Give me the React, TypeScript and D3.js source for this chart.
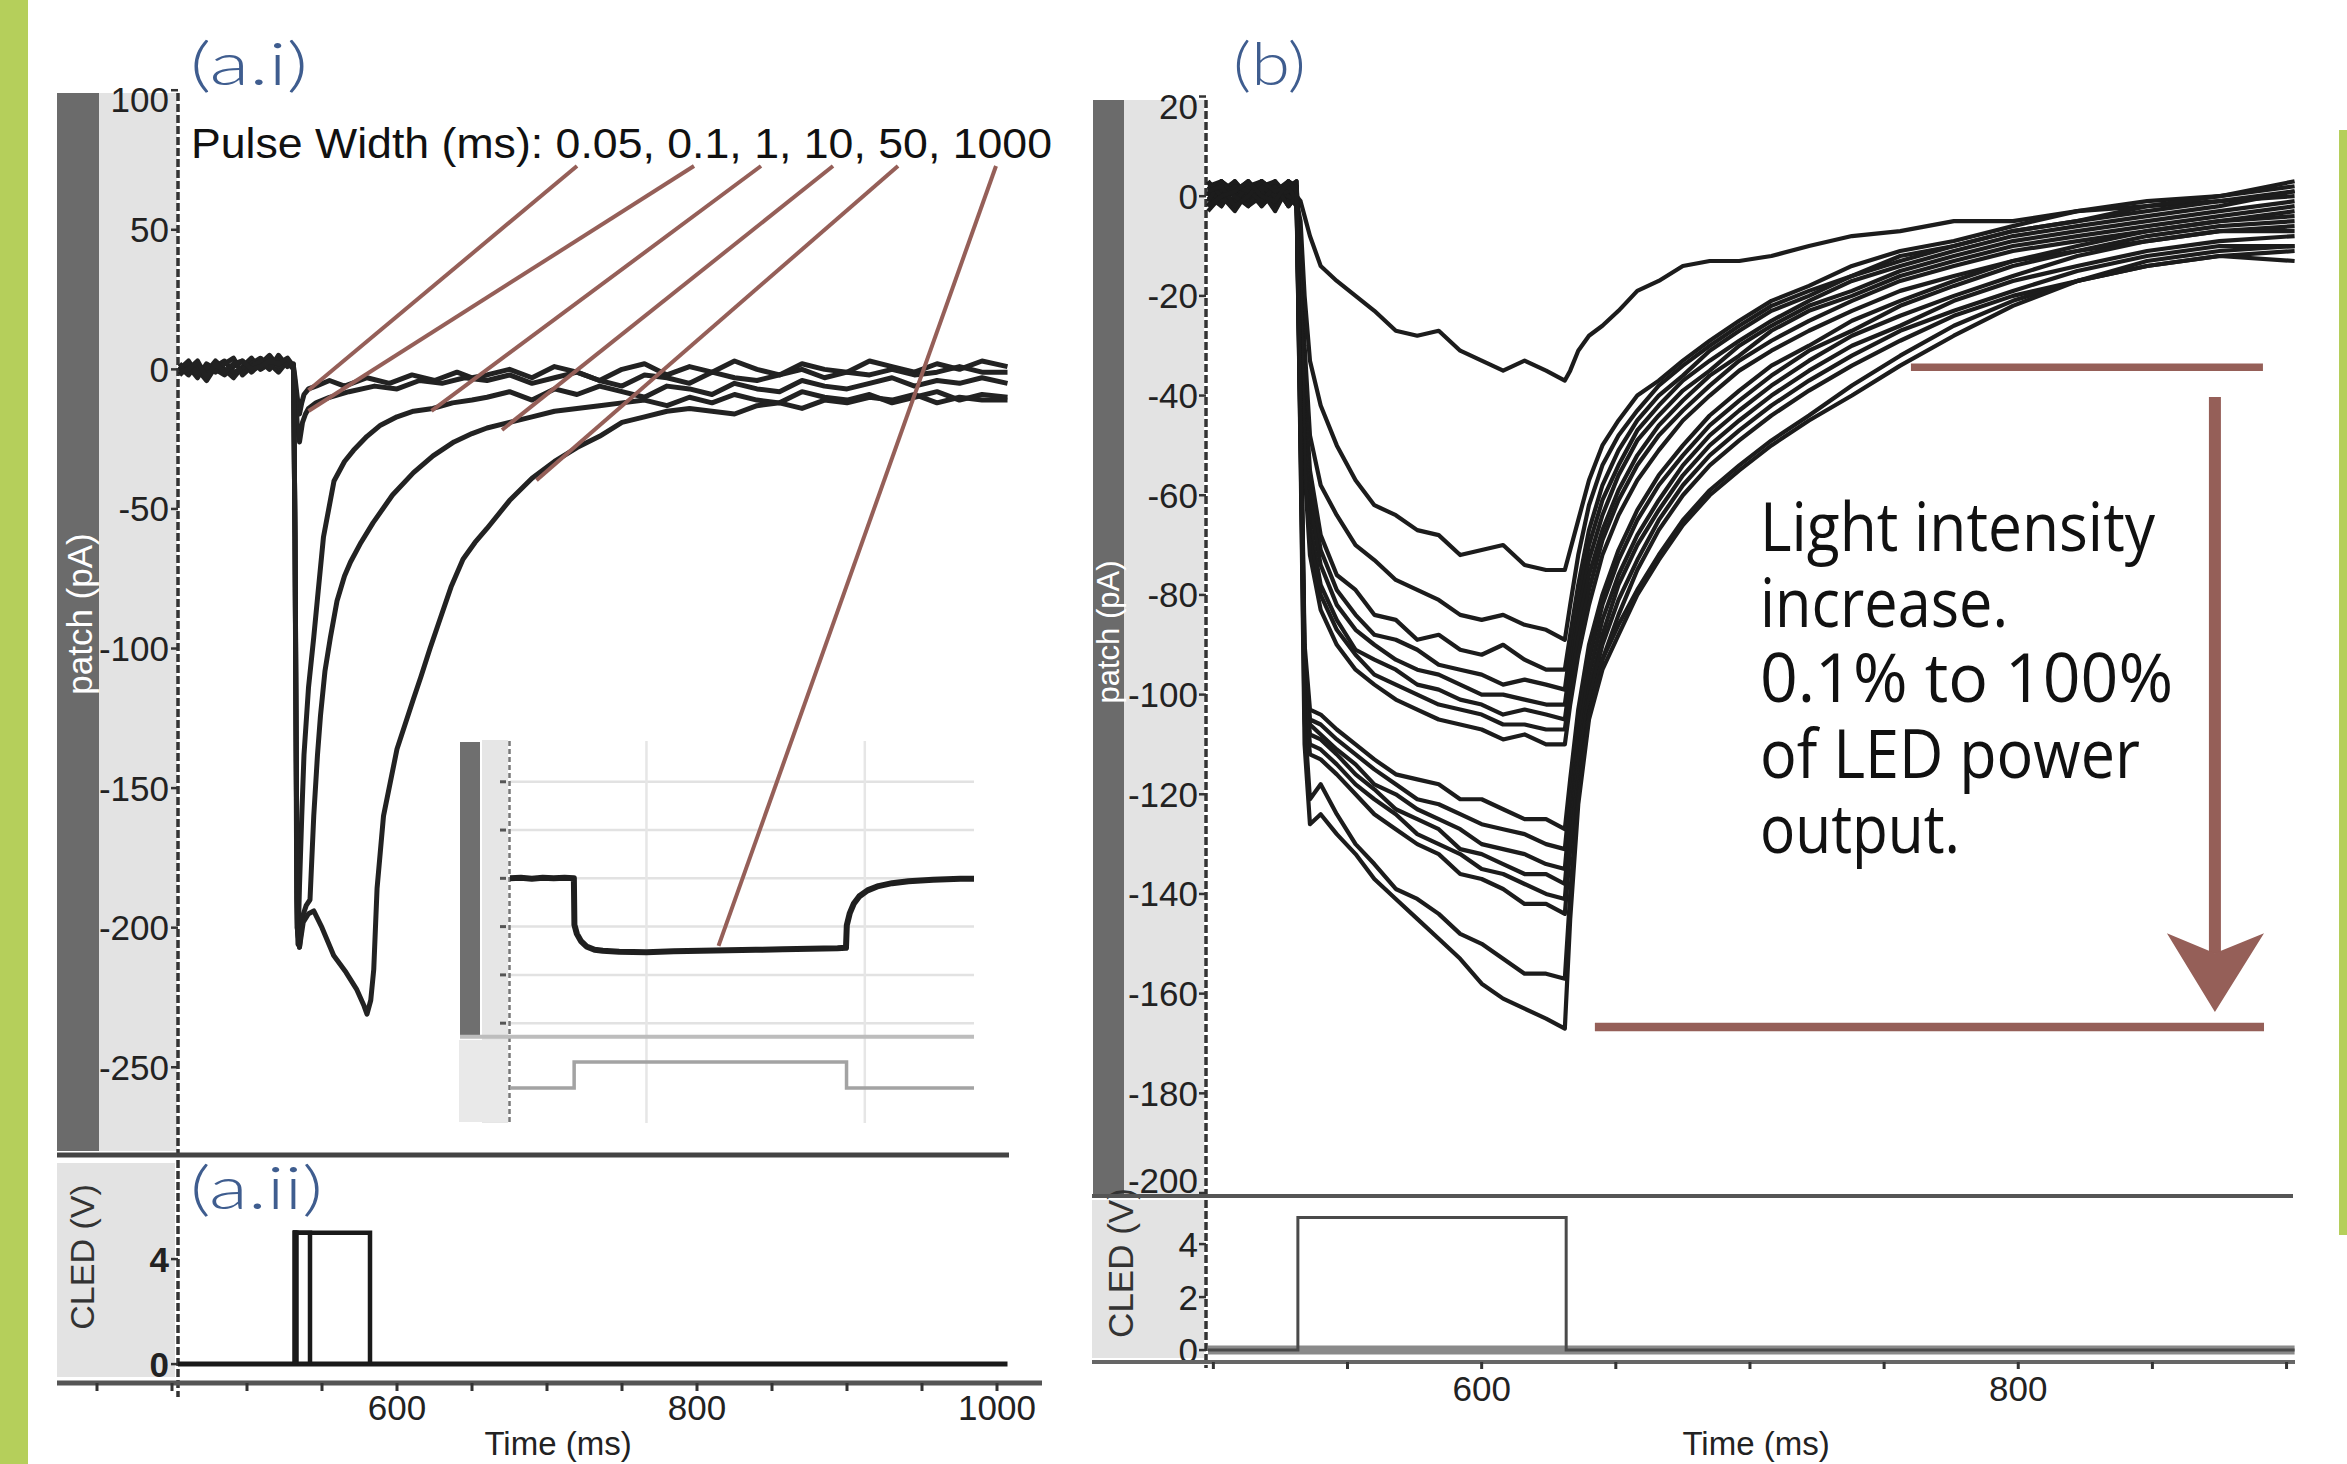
import React from "react";
import * as d3 from "d3";

const W = 2347;
const H = 1464;
const AX = "'Liberation Sans', Arial, sans-serif";
const LBL = "Lato, 'Open Sans', sans-serif";

// ---------- panel (a.i) : pulse width series ----------
const pulseLabels = ["0.05", "0.1", "1", "10", "50", "1000"];
const pulseWidthsA = [0.05, 0.1, 1, 10, 50];
const pulseStartA = 532;
const yTicksA = [100, 50, 0, -50, -100, -150, -200, -250];
const xTicksA = [600, 800, 1000];
const cledTicksA = [4, 0];

const preTimesA = [455, 461, 467, 473, 479, 485, 491, 497, 503, 509, 515, 521, 527, 531];
const tailTimesA = [660, 675, 690, 705, 720, 735, 750, 765, 780, 795, 810, 825, 840, 855, 870, 885, 900, 915, 930, 945, 960, 975, 990, 1007];

const pre005 = [1, -2, 2, -1, 3, 0, -3, 1, 4, 0, 2, -1, 3, 1];
const pre01 = [-2, 1, -3, 2, 0, -2, 1, 3, -1, 2, 5, 1, 3, 0];
const pre1 = [2, -1, 0, -4, 1, 3, -1, 0, 2, 4, 1, 3, 2, 1];
const pre10 = [0, 3, -2, 1, -1, 2, 4, -2, 1, 3, 0, 5, 1, 2];
const pre50 = [-1, 0, 3, -3, 2, -1, 2, 3, 0, 1, 3, 2, 4, 1];

const resp005 = [[532, -3], [533.5, -10], [535, -16], [536.5, -12], [538, -9], [541, -7], [546, -6], [555, -4], [565, -6], [580, -3], [595, -5], [610, -2], [625, -4], [640, -1], [650, -3]];
const resp01 = [[532, -5], [533.5, -20], [535, -26], [537, -19], [539, -16], [541, -14], [546, -12], [555, -10], [568, -8], [585, -6], [600, -7], [615, -4], [630, -5], [645, -3]];
const resp1 = [[532, -60], [533.2, -190], [534, -206], [535, -185], [536.5, -160], [538, -138], [541, -114], [544.5, -96], [547, -82], [551, -60], [558, -40], [565, -33], [571, -29], [580, -24], [589, -20], [600, -17], [611, -15], [624, -14], [637, -12], [650, -11]];
const resp10 = [[532, -60], [533.5, -200], [535, -207], [537, -196], [539.5, -192], [542, -190], [544.5, -160], [547, -138], [549, -124], [552, -108], [555.6, -96], [560, -83], [565, -74], [569, -69], [576, -62], [584, -55], [597, -45], [611, -37], [624, -31], [638, -26], [650, -23]];
const resp50 = [[532, -60], [533.5, -200], [535, -207], [537.5, -198], [541, -195], [544.5, -194], [550, -200], [557.8, -210], [566, -216], [573, -222], [578, -228], [580, -231], [582.5, -226], [584.5, -215], [586.7, -186], [591, -160], [600, -136], [611, -118], [616, -110], [622, -100], [629, -89], [636, -78], [644, -68], [652, -62]];

const tail005 = [-2, 0, -3, 1, -1, -4, 0, 2, -2, 1, -1, 3, 0, -2, 2, 0, -1, 3, 1, -1, 2, 0, 3, 1];
const tail01 = [-4, -2, -5, -3, -1, -4, -6, -2, -3, -5, -1, -3, -4, -2, 0, -3, -1, -2, 0, -2, -1, 1, -1, -1];
const tail1 = [-10, -8, -11, -7, -9, -6, -8, -10, -6, -7, -9, -5, -7, -8, -4, -6, -7, -5, -3, -6, -4, -5, -3, -5];
const tail10 = [-21, -19, -17, -15, -14, -13, -12, -11, -13, -10, -12, -9, -11, -12, -8, -10, -11, -9, -12, -10, -8, -11, -9, -10];
const tail50 = [-57, -47, -39, -33, -28, -24, -19, -17, -15, -14, -15, -16, -13, -12, -14, -11, -12, -10, -11, -9, -12, -10, -11, -11];

// pointer targets (ms, pA) for the 5 short pulses, and inset target for 1000 ms
const pointerEndsA = [[541, -7.5], [541, -14.9], [623, -14.9], [670, -21.7], [693, -39.7]];
const pointerStartX = [577, 694, 761, 833, 898, 996];
const pointerEndInset = [1064, -140];

// inset (1000 ms pulse)
const insetT = [300, 340, 380, 420, 460, 500, 534, 536, 545, 560, 580, 610, 640, 700, 800, 900, 1000, 1100, 1200, 1300, 1400, 1500, 1531, 1534, 1545, 1560, 1580, 1610, 1650, 1700, 1760, 1850, 1950, 2000];
const insetV = [0, 1, -1, 1, 0, 1, 0, -96, -115, -130, -141, -148, -150, -152, -153, -151, -150, -149, -148, -147, -146, -145, -144, -97, -72, -52, -37, -25, -16, -10, -6, -3, -1, -1];
const insetGridY = [200, 100, 0, -100, -200, -300];
const insetGridX = [800, 1600];
const insetPulse = [535, 1533];

// ---------- panel (b) : light intensity series ----------
const yTicksB = [20, 0, -20, -40, -60, -80, -100, -120, -140, -160, -180, -200];
const xTicksB = [600, 800];
const cledTicksB = [4, 2, 0];
const pulseB = [531.5, 631.5];
const timesB = [498, 503, 508, 513, 518, 523, 528, 531, 532.5, 534, 536, 540, 546, 553, 560, 568, 576, 584, 592, 600, 608, 616, 624, 631, 633, 636, 640, 645, 651, 658, 666, 675, 685, 696, 708, 722, 738, 756, 776, 798, 822, 848, 875, 903];

const tr1 = [1, -2, 2, 0, -1, 3, -2, 0, -1, -4, -8, -14, -17, -20, -23, -27, -28, -27, -31, -33, -35, -33, -35, -37, -35, -31, -28, -26, -23, -19, -17, -14, -13, -13, -12, -10, -8, -7, -5, -5, -3, -2, -1, 0];
const tr2 = [-2, 1, 3, -1, 2, 0, 1, -1, -5, -20, -33, -42, -50, -57, -62, -64, -67, -68, -72, -71, -70, -74, -75, -75, -71, -65, -57, -50, -45, -40, -37, -33, -29, -25, -21, -18, -14, -11, -9, -6, -3, -1, 0, 3];
const tr3 = [2, 0, -3, 1, 3, -1, 2, 1, -8, -30, -48, -58, -64, -70, -73, -77, -79, -81, -84, -85, -84, -86, -87, -89, -82, -72, -62, -54, -48, -43, -38, -34, -30, -26, -22, -19, -16, -12, -10, -7, -5, -3, -1, 1];
const u1 = [0, 3, 1, -2, 0, 2, -1, 2, -12, -38, -55, -68, -76, -79, -84, -85, -89, -88, -91, -92, -90, -93, -95, -95, -88, -78, -67, -58, -51, -45, -40, -36, -31, -27, -23, -20, -16, -13, -10, -7, -5, -2, 0, 2];
const u2 = [-1, 2, 0, 3, -2, 1, 3, 0, -14, -42, -58, -71, -79, -84, -88, -89, -91, -94, -95, -96, -98, -97, -98, -99, -91, -81, -70, -61, -54, -47, -42, -37, -33, -29, -25, -21, -17, -14, -11, -8, -6, -4, -2, 1];
const u3 = [3, -1, 2, 1, 0, -2, 1, 3, -15, -45, -62, -74, -82, -87, -90, -93, -95, -96, -98, -100, -100, -101, -102, -102, -94, -84, -73, -64, -56, -49, -44, -39, -35, -30, -26, -22, -19, -15, -12, -9, -7, -5, -3, -1];
const u4 = [0, 1, -2, 2, 3, 0, -1, 1, -17, -48, -66, -78, -85, -91, -93, -95, -98, -99, -101, -102, -104, -103, -104, -105, -97, -86, -76, -67, -59, -52, -46, -41, -36, -32, -27, -23, -20, -16, -13, -10, -8, -6, -4, -2];
const u5 = [-3, 0, 1, -1, 2, 3, 0, -2, -18, -52, -69, -80, -87, -92, -96, -98, -100, -102, -103, -104, -106, -106, -107, -107, -99, -89, -79, -69, -61, -54, -48, -43, -38, -33, -29, -25, -21, -17, -14, -11, -9, -7, -5, -4];
const u6 = [2, 3, 0, 1, -2, 1, 2, 0, -20, -55, -72, -83, -90, -95, -98, -101, -103, -105, -106, -107, -109, -108, -110, -110, -102, -92, -82, -72, -64, -57, -51, -45, -40, -35, -31, -27, -23, -19, -16, -13, -11, -9, -7, -6];
const l1 = [1, -1, 3, 0, 1, -1, 3, 2, -40, -90, -103, -104, -107, -110, -113, -116, -117, -118, -121, -121, -123, -125, -125, -127, -117, -103, -90, -80, -71, -63, -56, -50, -44, -39, -34, -30, -25, -21, -17, -13, -10, -7, -5, -3];
const l2 = [-2, 2, 1, 3, 0, 2, -2, 1, -42, -92, -105, -106, -109, -112, -115, -118, -121, -122, -124, -126, -127, -128, -130, -131, -120, -106, -93, -82, -73, -65, -58, -52, -46, -41, -36, -31, -27, -22, -18, -14, -11, -8, -6, -5];
const l3 = [0, -2, 2, -1, 3, 1, 0, -1, -44, -94, -106, -108, -111, -114, -118, -120, -123, -125, -127, -130, -131, -132, -134, -135, -123, -109, -96, -85, -76, -68, -61, -54, -48, -43, -38, -33, -28, -24, -20, -16, -12, -9, -7, -7];
const l4 = [2, 1, -1, 2, 1, -3, 2, 3, -45, -96, -108, -109, -112, -116, -119, -123, -125, -127, -131, -132, -134, -136, -136, -138, -126, -112, -99, -88, -78, -70, -63, -56, -50, -45, -40, -35, -30, -26, -21, -17, -14, -11, -9, -8];
const l5 = [-1, 3, 0, -2, 2, 0, 1, 2, -47, -98, -110, -111, -114, -118, -121, -124, -128, -130, -132, -135, -136, -138, -140, -141, -128, -114, -101, -90, -81, -73, -65, -58, -52, -47, -42, -37, -32, -27, -23, -19, -15, -12, -10, -10];
const l6 = [3, 0, 2, 1, -1, 2, -2, 0, -48, -100, -112, -113, -116, -120, -124, -127, -130, -132, -136, -137, -139, -142, -142, -144, -131, -117, -104, -93, -84, -75, -67, -60, -54, -49, -44, -39, -34, -29, -24, -20, -17, -14, -12, -11];
const x1 = [1, 2, -2, 0, 3, 1, 2, -1, -50, -105, -121, -118, -124, -130, -134, -139, -141, -144, -148, -150, -153, -156, -156, -157, -140, -120, -104, -93, -86, -79, -72, -65, -59, -54, -49, -44, -38, -32, -26, -21, -17, -13, -11, -10];
const x2 = [-2, 0, 1, 3, 0, -1, 3, 1, -52, -110, -126, -124, -128, -132, -137, -141, -145, -149, -153, -158, -161, -163, -165, -167, -145, -122, -105, -95, -88, -80, -73, -66, -60, -55, -50, -45, -40, -34, -28, -22, -17, -14, -12, -13];

const annotLines = ["Light intensity", "increase.", "0.1% to 100%", "of LED power", "output."];
const annotWidths = [395, 248, 413, 380, 200];

export default function App() {
  const xA = d3.scaleLinear().domain([454, 1007]).range([178, 1007.5]);
  const yA = d3.scaleLinear().domain([-280, 99]).range([1151, 93]);
  const yCA = d3.scaleLinear().domain([-0.72, 7.85]).range([1383, 1158]);
  const xI = d3.scaleLinear().domain([300, 2000]).range([510, 974]);
  const yI = d3.scaleLinear().domain([-328, 283]).range([1036.7, 741.7]);
  const yIC = d3.scaleLinear().domain([0, 1]).range([1088, 1062]);
  const xB = d3.scaleLinear().domain([498, 903]).range([1208, 2294.6]);
  const yB = d3.scaleLinear().domain([-200.6, 19.3]).range([1196, 100]);
  const yCB = d3.scaleLinear().domain([-0.45, 5.74]).range([1362, 1198]);

  const lineA = d3.line<number[]>().x(d => xA(d[0])).y(d => yA(d[1]));
  const lineB = d3.line<number[]>().x(d => xB(d[0])).y(d => yB(d[1]));
  const lineI = d3.line<number[]>().x(d => xI(d[0])).y(d => yI(d[1]));

  const buildA = (pre: number[], resp: number[][], tail: number[]) => [
    ...pre.map((v, i) => [preTimesA[i], v]),
    ...resp,
    ...tail.map((v, i) => [tailTimesA[i], v]),
  ];
  const tracesA = [
    buildA(pre005, resp005, tail005),
    buildA(pre01, resp01, tail01),
    buildA(pre1, resp1, tail1),
    buildA(pre10, resp10, tail10),
    buildA(pre50, resp50, tail50),
  ];
  const tracesB = [tr1, tr2, tr3, u1, u2, u3, u4, u5, u6, l1, l2, l3, l4, l5, l6, x1, x2]
    .map(vals => vals.map((v, i) => [timesB[i], v]));
  const insetData = insetT.map((t, i) => [t, insetV[i]]);

  // keep edge labels inside the plotted band, like the acquisition software does
  const clampLbl = (y: number, top: number, bottom: number) => Math.max(top + 6, Math.min(bottom - 16, y));
  const brown = "#955f58";

  return (
    <svg width={W} height={H} style={{ position: "absolute", left: 0, top: 0 }} fontFamily={AX}>
      <rect x={0} y={0} width={W} height={H} fill="#fff" />
      <rect x={0} y={0} width={28} height={H} fill="#b5cf5b" />
      <rect x={2339} y={130} width={8} height={1105} fill="#b5cf5b" />

      {/* ===== panel a.i ===== */}
      <rect x={57} y={93} width={42} height={1058} fill="#6b6b6b" />
      <rect x={99} y={93} width={78} height={1058} fill="#e3e3e3" />
      <rect x={57} y={1163} width={118} height={214} fill="#e3e3e3" />
      <text transform="translate(79,614) rotate(-90)" textAnchor="middle" dominantBaseline="central" fill="#fff" fontSize={35}>patch (pA)</text>
      <text transform="translate(82,1257) rotate(-90)" textAnchor="middle" dominantBaseline="central" fill="#333" fontSize={34}>CLED (V)</text>
      {yTicksA.map(t => (
        <g key={t}>
          <line x1={171} x2={178} y1={yA(t)} y2={yA(t)} stroke="#333" strokeWidth={2.5} />
          <text x={169} y={clampLbl(yA(t), 93, 1151)} textAnchor="end" dominantBaseline="central" fontSize={35} fill="#222">{t}</text>
        </g>
      ))}
      {cledTicksA.map(t => (
        <g key={t}>
          <line x1={171} x2={178} y1={yCA(t)} y2={yCA(t)} stroke="#333" strokeWidth={2.5} />
          <text x={169} y={yCA(t)} textAnchor="end" dominantBaseline="central" fontSize={35} fontWeight="bold" fill="#222">{t}</text>
        </g>
      ))}
      <line x1={178} x2={178} y1={93} y2={1397} stroke="#333" strokeWidth={3.5} strokeDasharray="8 3" />
      <line x1={57} x2={1009} y1={1155} y2={1155} stroke="#444" strokeWidth={5} />
      <line x1={57} x2={1042} y1={1383} y2={1383} stroke="#555" strokeWidth={5} />
      {d3.range(400, 1001, 50).map(t => (
        <line key={t} x1={xA(t)} x2={xA(t)} y1={1383} y2={1391} stroke="#333" strokeWidth={3} />
      ))}
      {xTicksA.map(t => (
        <text key={t} x={xA(t)} y={1420} textAnchor="middle" fontSize={35} fill="#222">{t}</text>
      ))}
      <text x={558} y={1455} textAnchor="middle" fontSize={33} fill="#222">Time (ms)</text>

      {/* inset */}
      <rect x={460} y={742} width={20} height={295} fill="#6f6f6f" />
      <rect x={482} y={740} width={26} height={383} fill="#e6e6e6" />
      <rect x={459} y={1040} width={49} height={82} fill="#e9e9e9" />
      {insetGridY.map(v => (
        <g key={v}>
          <line x1={510} x2={974} y1={yI(v)} y2={yI(v)} stroke="#e2e2e2" strokeWidth={2.5} />
          <line x1={500} x2={506} y1={yI(v)} y2={yI(v)} stroke="#555" strokeWidth={3} />
        </g>
      ))}
      {insetGridX.map(t => (
        <line key={t} x1={xI(t)} x2={xI(t)} y1={741} y2={1123} stroke="#e6e6e6" strokeWidth={2.5} />
      ))}
      <line x1={509.5} x2={509.5} y1={741} y2={1123} stroke="#777" strokeWidth={2.5} strokeDasharray="5 3" />
      <line x1={460} x2={974} y1={1036.7} y2={1036.7} stroke="#bdbdbd" strokeWidth={4} />
      <path
        d={`M${xI(300)},${yIC(0)}H${xI(insetPulse[0])}V${yIC(1)}H${xI(insetPulse[1])}V${yIC(0)}H${xI(2000)}`}
        fill="none" stroke="#a3a3a3" strokeWidth={3.5} />
      <path d={lineI(insetData) || ""} fill="none" stroke="#1f1f1f" strokeWidth={6} strokeLinejoin="round" />

      {/* traces a.i */}
      {tracesA.map((d, i) => (
        <path key={i} d={lineA(d) || ""} fill="none" stroke="#222" strokeWidth={5} strokeLinejoin="round" />
      ))}
      {/* CLED a.ii */}
      <line x1={xA(454)} x2={xA(1007)} y1={yCA(0)} y2={yCA(0)} stroke="#1a1a1a" strokeWidth={5} />
      {pulseWidthsA.map(w => (
        <path key={w}
          d={`M${xA(pulseStartA)},${yCA(0)}V${yCA(5)}H${xA(pulseStartA + w)}V${yCA(0)}`}
          fill="none" stroke="#1a1a1a" strokeWidth={4.5} />
      ))}

      {/* pointers */}
      {pointerEndsA.map((p, i) => (
        <line key={i} x1={pointerStartX[i]} y1={166} x2={xA(p[0])} y2={yA(p[1])} stroke={brown} strokeWidth={4} />
      ))}
      <line x1={pointerStartX[5]} y1={166} x2={xI(pointerEndInset[0])} y2={yI(pointerEndInset[1])} stroke={brown} strokeWidth={4} />
      <text x={191} y={158} fontSize={42} fill="#111" textLength={861} lengthAdjust="spacingAndGlyphs">
        {"Pulse Width (ms): " + pulseLabels.join(", ")}
      </text>

      <text x={190} y={85} fontFamily={LBL} fontWeight={300} fontSize={60} fill="#3f5d8f" textLength={118} lengthAdjust="spacingAndGlyphs">(a.i)</text>
      <text x={190} y={1209} fontFamily={LBL} fontWeight={300} fontSize={60} fill="#3f5d8f" textLength={133} lengthAdjust="spacingAndGlyphs">(a.ii)</text>

      {/* ===== panel b ===== */}
      <rect x={1093} y={100} width={31} height={1095} fill="#6b6b6b" />
      <rect x={1124} y={100} width={80} height={1095} fill="#e3e3e3" />
      <rect x={1092} y={1200} width={112} height={158} fill="#e3e3e3" />
      <text transform="translate(1108,632) rotate(-90)" textAnchor="middle" dominantBaseline="central" fill="#fff" fontSize={31}>patch (pA)</text>
      <text transform="translate(1120,1263) rotate(-90)" textAnchor="middle" dominantBaseline="central" fill="#333" fontSize={35}>CLED (V)</text>
      {yTicksB.map(t => (
        <g key={t}>
          <line x1={1199} x2={1206} y1={yB(t)} y2={yB(t)} stroke="#333" strokeWidth={2.5} />
          <text x={1198} y={clampLbl(yB(t), 100, 1196)} textAnchor="end" dominantBaseline="central" fontSize={35} fill="#222">{t}</text>
        </g>
      ))}
      {cledTicksB.map(t => (
        <g key={t}>
          <line x1={1199} x2={1206} y1={yCB(t)} y2={yCB(t)} stroke="#333" strokeWidth={2.5} />
          <text x={1198} y={yCB(t)} textAnchor="end" dominantBaseline="central" fontSize={35} fill="#222">{t}</text>
        </g>
      ))}
      <line x1={1206} x2={1206} y1={100} y2={1368} stroke="#333" strokeWidth={3.5} strokeDasharray="8 3" />
      <line x1={1092} x2={2293} y1={1196} y2={1196} stroke="#555" strokeWidth={4} />
      <line x1={1092} x2={2295} y1={1362} y2={1362} stroke="#666" strokeWidth={4} />
      {d3.range(500, 901, 50).map(t => (
        <line key={t} x1={xB(t)} x2={xB(t)} y1={1362} y2={1369} stroke="#333" strokeWidth={3} />
      ))}
      {xTicksB.map(t => (
        <text key={t} x={xB(t)} y={1401} textAnchor="middle" fontSize={35} fill="#222">{t}</text>
      ))}
      <text x={1756} y={1455} textAnchor="middle" fontSize={33} fill="#222">Time (ms)</text>

      {tracesB.map((d, i) => (
        <path key={i} d={lineB(d) || ""} fill="none" stroke="#1c1c1c" strokeWidth={4.2} strokeLinejoin="round" />
      ))}

      <line x1={xB(498)} x2={xB(903)} y1={yCB(0)} y2={yCB(0)} stroke="#8a8a8a" strokeWidth={9} />
      <path
        d={`M${xB(498)},${yCB(0)}H${xB(pulseB[0])}V${yCB(5)}H${xB(pulseB[1])}V${yCB(0)}H${xB(903)}`}
        fill="none" stroke="#4a4a4a" strokeWidth={3} />

      {/* annotation */}
      <line x1={xB(760)} x2={xB(891.2)} y1={yB(-34.3)} y2={yB(-34.3)} stroke={brown} strokeWidth={7.5} />
      <line x1={xB(642.2)} x2={xB(891.6)} y1={yB(-166.7)} y2={yB(-166.7)} stroke={brown} strokeWidth={8.5} />
      <line x1={xB(873.3)} x2={xB(873.3)} y1={yB(-40.3)} y2={yB(-152)} stroke={brown} strokeWidth={12} />
      <path
        d={`M${xB(855.4)},${yB(-147.9)}L${xB(873.3)},${yB(-151.9)}L${xB(891.6)},${yB(-147.9)}L${xB(873.3)},${yB(-163.7)}Z`}
        fill={brown} />
      {annotLines.map((s, i) => (
        <text key={s} x={1760} y={551 + i * 75.5} fontFamily="'Open Sans', 'DejaVu Sans', sans-serif" fontSize={68} fill="#111"
          textLength={annotWidths[i]} lengthAdjust="spacingAndGlyphs">{s}</text>
      ))}
      <text x={1233} y={85} fontFamily={LBL} fontWeight={300} fontSize={60} fill="#3f5d8f" textLength={73} lengthAdjust="spacingAndGlyphs">(b)</text>
    </svg>
  );
}
